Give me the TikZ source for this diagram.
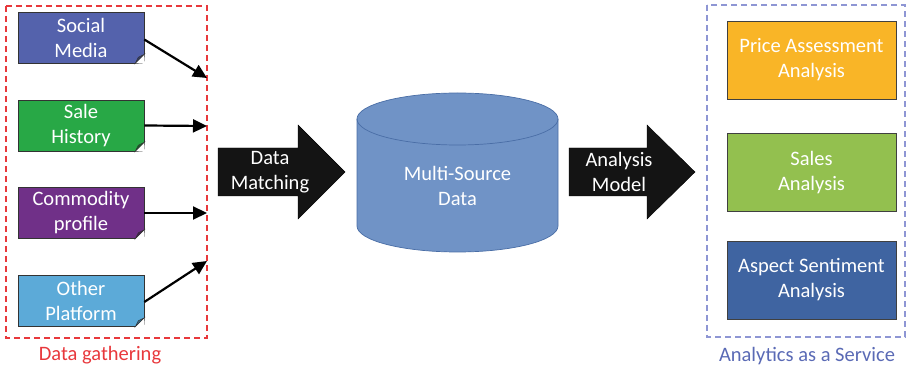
\documentclass[tikz,border=0pt]{standalone}
\usepackage{fontspec}
\setmainfont{Carlito}
\usetikzlibrary{arrows.meta}
\definecolor{gred}{RGB}{232,56,60}
\definecolor{sblue}{RGB}{142,150,212}
\definecolor{cSocial}{RGB}{84,98,172}
\definecolor{cSale}{RGB}{40,168,70}
\definecolor{cComm}{RGB}{112,48,136}
\definecolor{cOther}{RGB}{92,170,216}
\definecolor{cCyl}{RGB}{112,147,198}
\definecolor{cCylB}{RGB}{74,110,166}
\definecolor{cPrice}{RGB}{249,181,39}
\definecolor{cSales}{RGB}{147,192,79}
\definecolor{cAspect}{RGB}{63,100,161}
\definecolor{cServ}{RGB}{90,106,181}
\tikzset{
  srcbox/.style={draw=black!80, line width=0.6pt, minimum width=126pt, minimum height=51pt, inner sep=0pt, align=center, text=white, font=\fontsize{20.5}{25}\selectfont},
  outbox/.style={draw=black!75, line width=0.8pt, minimum width=169pt, minimum height=78pt, inner sep=0pt, align=center, text=white, font=\fontsize{20.5}{25}\selectfont},
  conn/.style={line width=2.2pt, -{Triangle[length=14pt,width=13pt]}},
  lbl/.style={font=\fontsize{20.5}{25}\selectfont, align=center},
  blk/.style={fill=black!92, draw=black},
}
\begin{document}
\begin{tikzpicture}[x=1pt,y=-1pt]
\useasboundingbox (0,0) rectangle (906,371);
% group frames
\draw[gred, line width=1.2pt, dash pattern=on 6pt off 4pt] (6,6) rectangle (207,338);
\draw[sblue, line width=1.2pt, dash pattern=on 6pt off 4pt] (707,5) rectangle (905,337);
\node[lbl, text=gred] (lg) at (100,355) {Data gathering};
\node[lbl, text=cServ] (ls) at (807,356) {Analytics as a Service};
% source boxes
\node[srcbox, fill=cSocial] (sm) at (81,37.5) {Social\\Media};
\node[srcbox, fill=cSale] (sh) at (81,125.5) {Sale\\History};
\node[srcbox, fill=cComm] (cp) at (81,213) {Commodity\\profile};
\node[srcbox, fill=cOther] (op) at (81,301) {Other\\Platform};
\foreach \n/\c in {sm/cSocial, sh/cSale, cp/cComm, op/cOther}{
  \fill[white] ([xshift=-9pt]\n.south east) -- ([xshift=0.6pt,yshift=-0.6pt]\n.south east) -- ([yshift=9pt]\n.south east) -- cycle;
  \filldraw[fill=\c!60!black, draw=black!80, line width=0.5pt] ([xshift=-9pt]\n.south east) -- ([yshift=9pt]\n.south east) -- ([xshift=-6pt,yshift=6pt]\n.south east) -- cycle;
}
% connectors into frame edge
\coordinate (e1) at (207,78);
\coordinate (e2) at (207,126);
\coordinate (e3) at (207,213);
\coordinate (e4) at (207,261);
\draw[conn] ([yshift=-2pt]sm.east) -- (e1);
\draw[conn] (sh.east) -- (e2);
\draw[conn] (cp.east) -- (e3);
\draw[conn] ([yshift=-1pt]op.east) -- (e4);
% block arrow: Data Matching
\draw[blk] (218,148) -- (298,148) -- (298,125) -- (345,172) -- (298,219) -- (298,196) -- (218,196) -- cycle;
\node[lbl, text=white] (dm) at (270,172) {Data\\Matching};
% cylinder
\filldraw[fill=cCyl, draw=cCylB, line width=0.7pt] (357,119) -- (357,226) arc[start angle=180, end angle=360, x radius=100.5pt, y radius=26pt] -- (558,119) arc[start angle=0, end angle=180, x radius=100.5pt, y radius=26pt] -- cycle;
\draw[cCylB, line width=0.7pt] (357,119) arc[start angle=180, end angle=360, x radius=100.5pt, y radius=26pt];
\node[lbl, text=white] (db) at (457.5,186) {Multi-Source\\Data};
% block arrow: Analysis Model
\draw[blk] (569,148) -- (647,148) -- (647,125) -- (695,172) -- (647,219) -- (647,196) -- (569,196) -- cycle;
\node[lbl, text=white] (am) at (619,172) {Analysis\\Model};
% output boxes
\node[outbox, fill=cPrice] (pa) at (811.5,60) {Price Assessment\\Analysis};
\node[outbox, fill=cSales] (sa) at (811.5,172.5) {Sales\\Analysis};
\node[outbox, fill=cAspect] (as) at (811.5,280) {Aspect Sentiment\\Analysis};
\end{tikzpicture}
\end{document}
